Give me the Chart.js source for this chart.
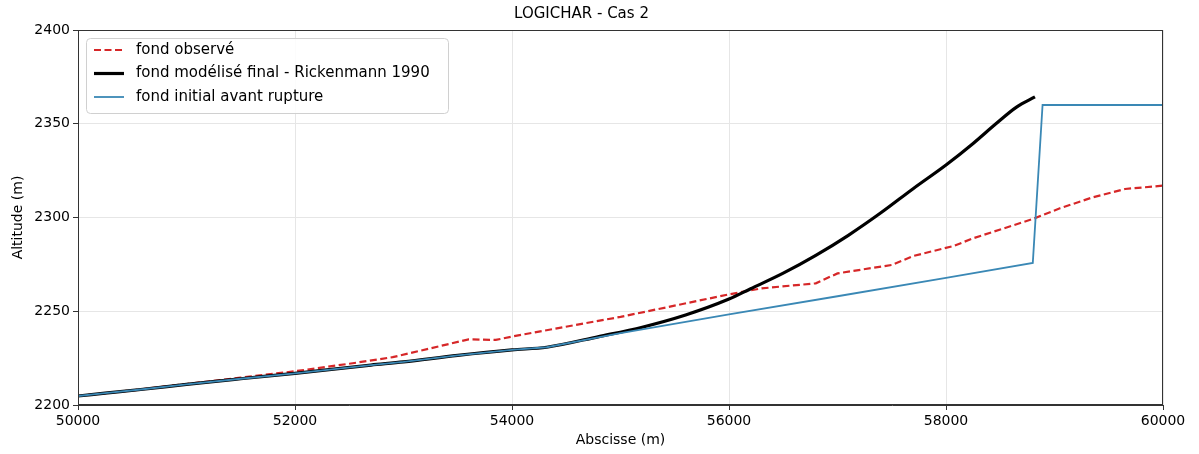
<!DOCTYPE html>
<html>
<head>
<meta charset="utf-8">
<script src="https://cdn.jsdelivr.net/npm/chart.js@4.4.0/dist/chart.umd.min.js"></script>
<style>
  html, body { margin: 0; padding: 0; background: #fff; }
  #wrap { width: 1199px; height: 454px; position: relative; }
</style>
</head>
<body>
<div id="wrap"><canvas id="chart"></canvas></div>
<script>
// fond observé
const xObs = [50000, 50500, 51000, 51500, 52000, 52500, 52900, 53600, 53850, 54000, 54300, 55000, 56000, 56300, 56800, 57000, 57500, 57700, 58070, 58250, 58800, 59050, 59350, 59650, 60000];
const yObs = [2204.8, 2207.8, 2211.2, 2214.6, 2218.0, 2222.0, 2225.5, 2235.0, 2234.7, 2236.5, 2239.7, 2247.0, 2259.0, 2262.2, 2264.9, 2270.2, 2274.7, 2279.5, 2284.8, 2288.9, 2299.2, 2304.9, 2310.7, 2315.2, 2317.0];

// fond modélisé final - Rickenmann 1990
const xMod = [50000, 50250, 50600, 51000, 51500, 52000, 52700, 53000, 53500, 54000, 54320, 54800, 55200, 55600, 56000, 56200, 56500, 56800, 57100, 57400, 57700, 58000, 58250, 58460, 58650, 58820];
const yMod = [2204.8, 2206.3, 2208.4, 2211.0, 2214.0, 2216.9, 2221.3, 2223.0, 2226.5, 2229.4, 2230.8, 2236.5, 2241.5, 2248.0, 2256.5, 2262.0, 2270.3, 2279.8, 2290.5, 2302.5, 2315.5, 2328.0, 2339.5, 2350.0, 2358.9, 2364.3];

// fond initial avant rupture
const xIni = [50000, 50250, 50600, 51000, 51500, 52000, 52700, 53000, 53500, 54000, 54320, 55000, 56000, 57000, 58000, 58800, 58890, 60000];
const yIni = [2204.8, 2206.3, 2208.4, 2211.0, 2214.0, 2216.9, 2221.3, 2223.0, 2226.5, 2229.4, 2230.8, 2238.3, 2248.3, 2258.0, 2267.8, 2275.8, 2360.0, 2360.0];

const xTicksStep = 2000;
const yTicksStep = 50;

function toPoints(xs, ys) {
    return xs.map((x, i) => ({ x: x, y: ys[i] }));
}

const FONT = "'DejaVu Sans', sans-serif";

// cadre autour de la zone du graphique
const framePlugin = {
    id: 'frame',
    afterDatasetsDraw(chart) {
        const a = chart.chartArea;
        const ctx = chart.ctx;
        ctx.save();
        ctx.strokeStyle = '#333';
        ctx.lineWidth = 1;
        ctx.strokeRect(a.left + 0.5, a.top + 0.5, a.right - a.left - 1, a.bottom - a.top - 1);
        ctx.restore();
    }
};

// légende dans le coin haut gauche (style matplotlib)
const legendPlugin = {
    id: 'boxLegend',
    afterDraw(chart) {
        const ctx = chart.ctx;
        const a = chart.chartArea;
        const x0 = a.left + 8, y0 = a.top + 8, w = 362, h = 75;
        ctx.save();
        ctx.fillStyle = 'rgba(255,255,255,0.85)';
        ctx.strokeStyle = '#d0d0d0';
        ctx.lineWidth = 1;
        ctx.beginPath();
        ctx.roundRect(x0 + 0.5, y0 + 0.5, w, h, 4);
        ctx.fill();
        ctx.stroke();
        ctx.font = '15px ' + FONT;
        ctx.textBaseline = 'middle';
        chart.data.datasets.forEach((ds, i) => {
            const cy = y0 + 12 + i * 23.5;
            ctx.strokeStyle = ds.borderColor;
            ctx.lineWidth = ds.borderWidth;
            ctx.setLineDash(ds.borderDash || []);
            ctx.beginPath();
            ctx.moveTo(x0 + 8, cy);
            ctx.lineTo(x0 + 38, cy);
            ctx.stroke();
            ctx.setLineDash([]);
            ctx.fillStyle = '#000';
            ctx.fillText(ds.label, x0 + 50, cy);
        });
        ctx.restore();
    }
};

new Chart(document.getElementById('chart').getContext('2d'), {
    type: 'line',
    data: {
        datasets: [{
            label: 'fond observé',
            data: toPoints(xObs, yObs),
            borderColor: '#d62728',
            borderWidth: 2.2,
            borderDash: [7, 3.5],
            pointRadius: 0,
            tension: 0,
            order: 3
        }, {
            label: 'fond modélisé final - Rickenmann 1990',
            data: toPoints(xMod, yMod),
            borderColor: '#000000',
            borderWidth: 3.2,
            pointRadius: 0,
            cubicInterpolationMode: 'monotone',
            order: 2
        }, {
            label: 'fond initial avant rupture',
            data: toPoints(xIni, yIni),
            borderColor: '#3a88b5',
            borderWidth: 1.8,
            pointRadius: 0,
            tension: 0,
            order: 1
        }]
    },
    options: {
        responsive: true,
        maintainAspectRatio: false,
        animation: false,
        layout: { padding: { left: 0, right: 36, top: 0, bottom: 0 } },
        plugins: {
            legend: { display: false },
            tooltip: { enabled: false },
            title: {
                display: true,
                text: 'LOGICHAR - Cas 2',
                color: '#000',
                font: { family: FONT, size: 15, weight: 'normal' },
                padding: { top: 5, bottom: 7 }
            }
        },
        scales: {
            x: {
                type: 'linear',
                min: 50000,
                max: 60000,
                ticks: {
                    stepSize: xTicksStep,
                    color: '#000',
                    font: { family: FONT, size: 14 },
                    padding: 3,
                    maxRotation: 0,
                    callback: v => String(v)
                },
                grid: { color: '#e6e6e6', tickColor: '#333', tickLength: 5, drawTicks: true },
                border: { display: true, color: '#333' },
                title: {
                    display: true,
                    text: 'Abscisse (m)',
                    color: '#000',
                    font: { family: FONT, size: 14 },
                    padding: { top: 2, bottom: 5 }
                },
                afterFit(scale) {
                    scale.height = 49;
                    scale.paddingLeft = 0;
                    scale.paddingRight = 0;
                }
            },
            y: {
                min: 2200,
                max: 2400,
                ticks: {
                    stepSize: yTicksStep,
                    color: '#000',
                    font: { family: FONT, size: 14 },
                    padding: 3,
                    callback: v => String(v)
                },
                grid: { color: '#e6e6e6', tickColor: '#333', tickLength: 5, drawTicks: true },
                border: { display: true, color: '#333' },
                title: {
                    display: true,
                    text: 'Altitude (m)',
                    color: '#000',
                    font: { family: FONT, size: 14 },
                    padding: { top: 10, bottom: 0 }
                },
                afterFit(scale) {
                    scale.width = 78;
                    scale.paddingTop = 0;
                    scale.paddingBottom = 0;
                }
            }
        }
    },
    plugins: [framePlugin, legendPlugin]
});
</script>
</body>
</html>
